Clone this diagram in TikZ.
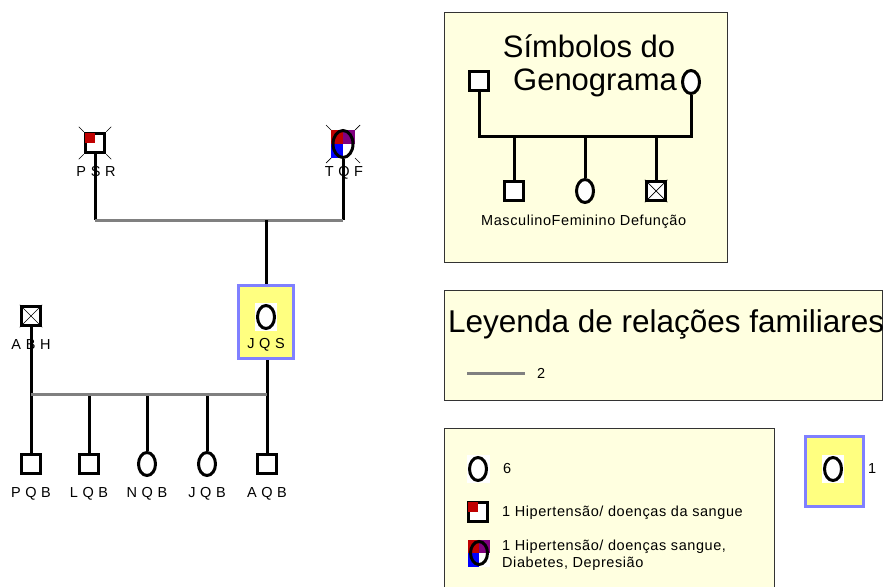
\documentclass[tikz,border=0pt]{standalone}
\usepackage{fontspec}
\setmainfont{Liberation Sans}
\newfontfamily\lblfont[LetterSpace=4]{Liberation Sans}
\usetikzlibrary{shapes.geometric}
\definecolor{legfill}{HTML}{FFFFE0}
\definecolor{hiyel}{HTML}{FFFF80}
\definecolor{hiblue}{HTML}{8080FF}
\definecolor{relgray}{HTML}{808080}
\definecolor{dred}{HTML}{C00000}
\definecolor{dpurp}{HTML}{800080}
\definecolor{dblue}{HTML}{0000FF}
\begin{document}
\begin{tikzpicture}[x=1pt,y=-1pt,
 conn/.style={line width=3pt},
 rel/.style={line width=3pt, draw=relgray},
 male/.style={draw, line width=3pt, fill=white, minimum size=19.5pt, inner sep=0pt},
 fem/.style={draw, ellipse, line width=3pt, fill=white, minimum width=17pt, minimum height=23pt, inner sep=0pt},
 femopen/.style={draw, ellipse, line width=3pt, minimum width=17pt, minimum height=23pt, inner sep=0pt},
 lbl/.style={font=\lblfont\fontsize{14.5}{17.5}\selectfont, inner sep=0pt},
 legbox/.style={draw=black!80, fill=legfill, line width=1pt, inner sep=0pt},
 hibox/.style={draw=hiblue, fill=hiyel, line width=3pt, inner sep=0pt},
 tickm/.style={line width=0.7pt},
 xmark/.style={line width=0.7pt},
 bigtitle/.style={font=\fontsize{31}{36}\selectfont, inner sep=0pt},
]
\useasboundingbox (0,0) rectangle (896,586);

% ================= legend boxes =================
\node[legbox, anchor=north west, minimum width=283pt, minimum height=250pt] (box1) at (444,12) {};
\node[legbox, anchor=north west, minimum width=438pt, minimum height=110pt] (box2) at (444,290) {};
\node[legbox, anchor=north west, minimum width=330pt, minimum height=175pt] (box3) at (444,428) {};
\node[hibox, anchor=north west, minimum width=58pt, minimum height=70pt] (hbox) at (804,435) {};

% ---- box 1: symbols
\node[bigtitle, anchor=base] (t1a) at (589,57) {Símbolos do};
\node[bigtitle, anchor=base] (t1b) at (595,90) {Genograma};
\node[male] (lm) at (479,81) {};
\node[fem] (lf) at (691,82) {};
\coordinate (lml) at (479,136);
\coordinate (lfr) at (691,136);
\node[male] (lc1) at (514,191) {};
\node[fem] (lc2) at (585,191) {};
\node[male] (lc3) at (656,191) {};
\draw[xmark] (lc3.north west) -- (lc3.south east) (lc3.north east) -- (lc3.south west);
\coordinate (lc1t) at (514,136);
\coordinate (lc2t) at (585,136);
\coordinate (lc3t) at (656,136);
\draw[conn] (lm.south) -- (lml) -- (lfr) -- (lf.south);
\draw[conn] (lc1t) -- (lc1.north);
\draw[conn] (lc2t) -- (lc2.north);
\draw[conn] (lc3t) -- (lc3.north);
\node[lbl, anchor=base west] (lsym) at (481,225) {MasculinoFeminino Defunção};

% ---- box 2: relations
\node[font=\fontsize{31.5}{36}\selectfont, inner sep=0pt, anchor=base west] (t2) at (448,332) {Leyenda de relações familiares};
\coordinate (r2a) at (467,373);
\coordinate (r2b) at (525,373);
\draw[rel] (r2a) -- (r2b);
\node[lbl, anchor=west] (r2l) at (537,373) {2};

% ---- box 3: persons
\fill[white] (467,455) rectangle (490,483);
\node[femopen] (p6) at (478,469) {};
\node[lbl, anchor=west] (p6l) at (503,469) {6};
\node[male] (ph) at (478,512) {};
\fill[dred] ([shift={(1.5,1.5)}]ph.north west) rectangle (ph.center);
\node[lbl, anchor=west] (phl) at (502,513) {1 Hipertensão/ doenças da sangue};
\fill[dred] (468,540) rectangle (479,553);
\fill[dpurp] (479,540) rectangle (490,553);
\fill[dblue] (468,553) rectangle (479,567);
\fill[white] (479,553) rectangle (490,567);
\node[femopen] (pm) at (479,553) {};
\node[lbl, anchor=west, align=left] (pml) at (502,555) {1 Hipertensão/ doenças sangue,\\Diabetes, Depresião};

% ---- highlighted box legend
\fill[white] (822,455) rectangle (844,483);
\node[femopen] (hc) at (833,469) {};
\node[lbl, anchor=west] (hl) at (868,469) {1};

% ================= genogram =================
% PSR
\node[male] (psr) at (95,143) {};
\fill[dred] ([shift={(1.5,1.5)}]psr.north west) rectangle (psr.center);
\draw[tickm] (psr.north west) -- ++(-5,-5);
\draw[tickm] (psr.north east) -- ++(5,-5);
\draw[tickm] (psr.south west) -- ++(-5,5);
\draw[tickm] (psr.south east) -- ++(5,5);
% TQF
\fill[dred] (331,130) rectangle (343,144);
\fill[dpurp] (343,130) rectangle (355,144);
\fill[dblue] (331,144) rectangle (343,158);
\fill[white] (343,144) rectangle (355,158);
\node[femopen, minimum width=20pt, minimum height=27pt] (tqf) at (343,144) {};
\coordinate (tqfnw) at (331,130);
\coordinate (tqfne) at (355,130);
\coordinate (tqfsw) at (331,158);
\coordinate (tqfse) at (355,158);
\draw[tickm] (tqfnw) -- ++(-5,-5);
\draw[tickm] (tqfne) -- ++(5,-5);
\draw[tickm] (tqfsw) -- ++(-5,5);
\draw[tickm] (tqfse) -- ++(5,5);

% JQS
\node[hibox, minimum width=55pt, minimum height=73pt] (jqs) at (266,322) {};
\fill[white] (255,303) rectangle (277,331);
\node[femopen] (jqsc) at (266,317) {};

% ABH
\node[male] (abh) at (31,316) {};
\draw[xmark] (abh.north west) -- (abh.south east) (abh.north east) -- (abh.south west);

% children
\node[male] (pqb) at (31,464) {};
\node[male] (lqb) at (89,464) {};
\node[fem] (nqb) at (147,464) {};
\node[fem] (jqb) at (207,464) {};
\node[male] (aqb) at (267,464) {};

% connectors
\coordinate (m1l) at (95,220);
\coordinate (m1r) at (343,220);
\coordinate (m1c) at (266,220);
\draw[conn] (psr.south) -- (m1l);
\draw[conn] (tqf.south) -- (m1r);
\draw[rel] (m1l) -- (m1r);
\draw[conn] (m1c) -- (jqs.north);

\coordinate (m2l) at (31,394);
\coordinate (m2r) at (267,394);
\draw[conn] (abh.south) -- (m2l);
\draw[conn] (jqs.south -| m2r) -- (m2r);
\coordinate (c1) at (31,394);
\coordinate (c2) at (89,394);
\coordinate (c3) at (147,394);
\coordinate (c4) at (207,394);
\coordinate (c5) at (267,394);
\draw[conn] (c1) -- (pqb.north);
\draw[conn] (c2) -- (lqb.north);
\draw[conn] (c3) -- (nqb.north);
\draw[conn] (c4) -- (jqb.north);
\draw[conn] (c5) -- (aqb.north);
\draw[rel] (m2l) -- (m2r);

% labels
\node[lbl, anchor=base] (psrl) at (96,176) {P S R};
\node[lbl, anchor=base] (tqfl) at (344,176) {T Q F};
\node[lbl, anchor=base] (abhl) at (31,349) {A B H};
\node[lbl, anchor=base] (jqsl) at (266,348) {J Q S};
\node[lbl, anchor=base] (pqbl) at (31,497) {P Q B};
\node[lbl, anchor=base] (lqbl) at (89,497) {L Q B};
\node[lbl, anchor=base] (nqbl) at (147,497) {N Q B};
\node[lbl, anchor=base] (jqbl) at (207,497) {J Q B};
\node[lbl, anchor=base] (aqbl) at (267,497) {A Q B};
\end{tikzpicture}
\end{document}
